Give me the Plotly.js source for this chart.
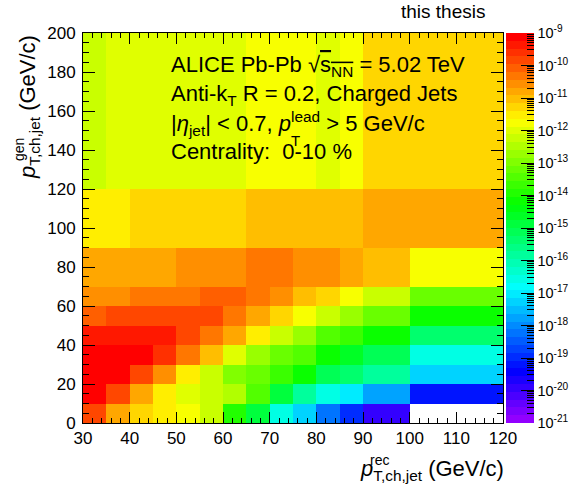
<!DOCTYPE html>
<html><head><meta charset="utf-8">
<script src="https://cdn.plot.ly/plotly-3.0.1.min.js"></script>
<style>html,body{margin:0;padding:0;background:#fff}#chart{width:570px;height:491px}</style>
</head><body><div id="chart"></div>
<script>
// Bin edges (GeV/c)
const recEdges = [30,35,40,45,50,55,60,65,70,75,80,85,90,100,120];
const genEdges = [0,10,20,30,40,50,60,70,90,120,200];

// Response matrix values, one array per generator-level bin (bottom to top); 0 = empty bin
const gen0_10   = [1.9e-10,1.5e-11,6.0e-12,3.3e-12,1.8e-12,6.9e-13,1.3e-14,1.4e-15,3.2e-17,4.9e-18,6.2e-19,1.3e-19,1.2e-20,0];
const gen10_20  = [6.2e-10,1.6e-10,1.5e-11,3.3e-12,1.1e-12,6.9e-13,2.8e-13,3.9e-14,1.2e-15,1.9e-16,2.6e-17,8.1e-18,1.7e-18,6.4e-20];
const gen20_30  = [7.6e-10,7.6e-10,1.6e-10,2.6e-11,3.7e-12,5.6e-13,1.05e-13,5.8e-14,2.2e-14,8.9e-15,8.4e-16,5.1e-16,1.3e-16,4.9e-18];
const gen30_40  = [7.6e-10,7.6e-10,7.6e-10,2.3e-10,4.8e-11,8.1e-12,1.1e-12,1.7e-13,5.8e-14,3.6e-14,8.9e-15,2.0e-15,8.4e-16,2.6e-17];
const gen40_50  = [4.2e-10,4.2e-10,4.2e-10,4.2e-10,1.9e-10,4.8e-11,1.5e-11,3.3e-12,5.6e-13,1.7e-13,4.3e-14,2.2e-14,8.9e-15,5.6e-16];
const gen50_60  = [7.1e-11,1.2e-10,1.2e-10,1.2e-10,1.2e-10,1.2e-10,4.8e-11,1.5e-11,6.0e-12,1.7e-12,4.6e-13,1.7e-13,7.1e-14,5.5e-15];
const gen60_70  = [2.9e-11,2.9e-11,4.8e-11,4.8e-11,4.8e-11,8.6e-11,8.6e-11,4.8e-11,2.9e-11,9.9e-12,4.1e-12,1.7e-12,5.6e-13,5.8e-14];
const gen70_90  = [1.5e-11,1.5e-11,1.5e-11,1.5e-11,2.4e-11,2.4e-11,2.4e-11,4.3e-11,4.3e-11,2.6e-11,2.6e-11,1.5e-11,8.9e-12,2.2e-12];
const gen90_120 = [3.3e-12,3.3e-12,4.9e-12,4.9e-12,4.9e-12,4.9e-12,4.9e-12,8.9e-12,8.9e-12,8.9e-12,8.9e-12,8.9e-12,1.5e-11,1.5e-11];
const gen120_200= [5.6e-13,9.2e-13,9.2e-13,9.2e-13,9.2e-13,9.2e-13,9.2e-13,1.4e-12,1.4e-12,1.4e-12,9.2e-13,1.7e-12,6.0e-12,6.0e-12];

// Colour axis (log10 exponents)
const zExpMin = -21, zExpMax = -9;
const colorbarExponents = [-21,-20,-19,-18,-17,-16,-15,-14,-13,-12,-11,-10,-9];

const rows = [gen0_10,gen10_20,gen20_30,gen30_40,gen40_50,gen50_60,gen60_70,gen70_90,gen90_120,gen120_200];
const zLog = rows.map(r => r.map(v => v > 0 ? Math.log10(v) : null));

// ROOT "pretty" palette: 50 HLS colours, violet -> red
function hsl2rgb(h, s, l) {
  const c = (1 - Math.abs(2*l - 1)) * s, hp = h/60, x = c*(1 - Math.abs(hp % 2 - 1));
  let r=0,g=0,b=0;
  if (hp < 1) {r=c;g=x;} else if (hp < 2) {r=x;g=c;} else if (hp < 3) {g=c;b=x;}
  else if (hp < 4) {g=x;b=c;} else if (hp < 5) {r=x;b=c;} else {r=c;b=x;}
  const m = l - c/2;
  return 'rgb(' + Math.round((r+m)*255) + ',' + Math.round((g+m)*255) + ',' + Math.round((b+m)*255) + ')';
}
const nPal = 50, palette = [];
for (let i = 0; i < nPal; i++) {
  const c = hsl2rgb(280 - (i+1)*280/nPal, 1, 0.5);
  palette.push([i/nPal, c]); palette.push([(i+1)/nPal, c]);
}

// minor colorbar ticks (log positions)
const minorVals = [];
for (let e = zExpMin; e < zExpMax; e++) for (let k = 2; k <= 9; k++) minorVals.push(e + Math.log10(k));

const cbBase = {x: 1.0071, xanchor: 'left', xref: 'paper', y: 0.5, yanchor: 'middle', yref: 'paper',
  len: 1, lenmode: 'fraction', thickness: 28, thicknessmode: 'pixels', xpad: 0, ypad: 0, outlinewidth: 0};

const main = {
  type: 'heatmap', x: recEdges, y: genEdges, z: zLog, zmin: zExpMin, zmax: zExpMax,
  colorscale: palette, zsmooth: false, hoverinfo: 'skip',
  colorbar: Object.assign({}, cbBase, {
    tickmode: 'array', tickvals: colorbarExponents,
    ticktext: colorbarExponents.map(e => '10<sup>' + e + '</sup>'),
    ticks: 'inside', ticklen: 13, tickwidth: 1, tickcolor: '#000',
    tickfont: {size: 14.5, color: '#000'}
  })
};
const minorBar = {
  type: 'heatmap', x: recEdges, y: genEdges, z: zLog, zmin: zExpMin, zmax: zExpMax,
  colorscale: [[0,'rgba(0,0,0,0)'],[1,'rgba(0,0,0,0)']], opacity: 0, hoverinfo: 'skip',
  colorbar: Object.assign({}, cbBase, {
    tickmode: 'array', tickvals: minorVals, showticklabels: false,
    ticks: 'inside', ticklen: 7, tickwidth: 1, tickcolor: '#000'
  })
};

const F = 'Liberation Sans, Arial, Helvetica, sans-serif';
const axisCommon = {
  ticks: 'inside', tickcolor: '#000', tickwidth: 1, showline: true, linecolor: '#000', linewidth: 1,
  mirror: 'allticks', showgrid: false, zeroline: false, tickfont: {size: 17, color: '#000'}
};
const px = v => (v - 83) / 420;      // pixel x -> paper
const py = v => (423 - v) / 390;     // pixel y -> paper
const TXT = 22, SML = 14;
const layout = {
  width: 570, height: 491,
  margin: {l: 83, r: 67, t: 33, b: 68, autoexpand: false},
  paper_bgcolor: '#fff', plot_bgcolor: '#fff',
  font: {family: F, color: '#000'},
  showlegend: false,
  xaxis: Object.assign({}, axisCommon, {range: [30, 120], tickmode: 'linear', tick0: 30, dtick: 10, ticklen: 11,
    minor: {dtick: 2, tick0: 30, ticklen: 5, ticks: 'inside', tickcolor: '#000', showgrid: false}}),
  yaxis: Object.assign({}, axisCommon, {range: [0, 200], tickmode: 'linear', tick0: 0, dtick: 20, ticklen: 12,
    ticklabelstandoff: 3,
    minor: {dtick: 5, tick0: 0, ticklen: 6, ticks: 'inside', tickcolor: '#000', showgrid: false}}),
  annotations: [
    {text: 'this thesis', xref: 'paper', yref: 'paper', x: px(443), y: py(12), xanchor: 'center', yanchor: 'middle', showarrow: false, font: {size: 19}},
    {text: 'ALICE Pb-Pb \u221A<span style="text-decoration:overline">s<sub>NN</sub></span> = 5.02 TeV', xref: 'paper', yref: 'paper', x: px(169), y: py(66), xanchor: 'left', yanchor: 'middle', showarrow: false, font: {size: TXT}},
    {text: 'Anti-k<sub>T</sub> R = 0.2, Charged Jets', xref: 'paper', yref: 'paper', x: px(169), y: py(95), xanchor: 'left', yanchor: 'middle', showarrow: false, font: {size: TXT}},
    {text: '|<i>\u03B7</i><sub>jet</sub>| &lt; 0.7, <i>p</i><sup>lead</sup> &gt; 5 GeV/c', xref: 'paper', yref: 'paper', x: px(169), y: py(124), xanchor: 'left', yanchor: 'middle', showarrow: false, font: {size: TXT}},
    {text: 'T', xref: 'paper', yref: 'paper', x: px(289), y: py(140), xanchor: 'left', yanchor: 'middle', showarrow: false, font: {size: 15}},
    {text: 'Centrality:  0-10 %', xref: 'paper', yref: 'paper', x: px(169), y: py(151), xanchor: 'left', yanchor: 'middle', showarrow: false, font: {size: TXT}},
    {text: '<i>p</i><sub>T,ch,jet</sub> (GeV/c)', xref: 'paper', yref: 'paper', x: px(506), y: py(470), xanchor: 'right', yanchor: 'middle', showarrow: false, font: {size: TXT}},
    {text: 'rec', xref: 'paper', yref: 'paper', x: px(368), y: py(460), xanchor: 'left', yanchor: 'middle', showarrow: false, font: {size: SML}},
    {text: '<i>p</i><sub>T,ch,jet</sub> (GeV/c)', xref: 'paper', yref: 'paper', x: px(29), y: py(107), xanchor: 'center', yanchor: 'middle', textangle: -90, showarrow: false, font: {size: TXT}},
    {text: 'gen', xref: 'paper', yref: 'paper', x: px(19), y: py(150), xanchor: 'center', yanchor: 'middle', textangle: -90, showarrow: false, font: {size: SML}}
  ]
};
Plotly.newPlot('chart', [main, minorBar], layout, {displayModeBar: false, staticPlot: true});
</script></body></html>
